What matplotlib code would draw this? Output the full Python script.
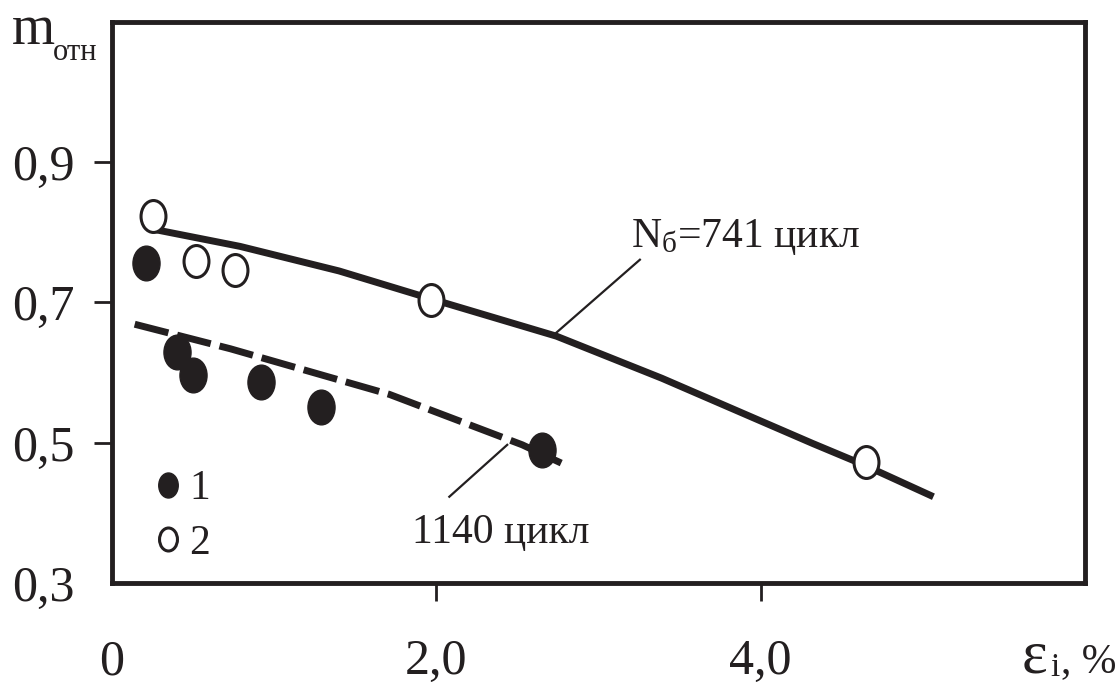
import numpy as np
import matplotlib
matplotlib.use('Agg')
import matplotlib.pyplot as plt
from matplotlib.path import Path
from matplotlib.markers import MarkerStyle

plt.rcParams.update({
    'font.family': 'Liberation Serif',
    'mathtext.fontset': 'custom',
    'mathtext.rm': 'Liberation Serif',
    'mathtext.it': 'Liberation Serif:italic',
})
INK = '#231f20'

# ─── data ────────────────────────────────────────────────────────────────────
# series 1 (filled points)
eps_1 = [0.21, 0.40, 0.50, 0.92, 1.29, 2.65]
m_1 = [0.757, 0.629, 0.597, 0.586, 0.551, 0.490]
# series 2 (open points)
eps_2 = [0.25, 0.52, 0.76, 1.97, 4.65]
m_2 = [0.823, 0.759, 0.746, 0.703, 0.473]
# fitted curve, N = 741 cycles (solid)
fit741_x = [0.265, 0.79, 1.40, 1.97, 2.74, 3.39, 3.70, 4.01, 4.32, 4.62, 5.065]
fit741_y = [0.804, 0.780, 0.745, 0.705, 0.652, 0.592, 0.561, 0.530, 0.499, 0.470, 0.423]
# fitted curve, 1140 cycles (dashed)
fit1140_x = [0.14, 0.73, 1.71, 2.53, 2.77]
fit1140_y = [0.669, 0.634, 0.569, 0.497, 0.471]

xticks = [0, 2, 4]
xtick_labels = ['0', '2,0', '4,0']
yticks = [0.3, 0.5, 0.7, 0.9]
ytick_labels = ['0,3', '0,5', '0,7', '0,9']

# elliptical marker (figure is horizontally squeezed)
_c = Path.unit_circle()
ELLIPSE = MarkerStyle(Path(_c.vertices * [0.78, 1.0], _c.codes))

fig = plt.figure(figsize=(11.2, 6.84), dpi=100)
ax = fig.add_axes([0.1, 0.1477, 0.8688, 0.8201])

ax.plot(fit741_x, fit741_y, color=INK, lw=5, solid_capstyle='butt',
        solid_joinstyle='round', zorder=2)
ax.plot(fit1140_x, fit1140_y, color=INK, lw=5, dashes=(5, 1.3),
        dash_capstyle='butt', zorder=2)

h1, = ax.plot(eps_1, m_1, ls='none', marker=ELLIPSE, ms=25,
              mfc=INK, mec=INK, mew=1, zorder=3)
h2, = ax.plot(eps_2, m_2, ls='none', marker=ELLIPSE, ms=23,
              mfc='white', mec=INK, mew=2.2, zorder=3)

# leader lines and curve labels
ax.plot([2.74, 3.255], [0.657, 0.761], color=INK, lw=1.6, zorder=1)
ax.plot([2.08, 2.437], [0.423, 0.497], color=INK, lw=1.6, zorder=1)
ax.text(3.2, 0.779, r'N$_{\mathrm{б}}$=741 цикл', fontsize=30, va='baseline', color=INK)
ax.text(1.85, 0.357, '1140 цикл', fontsize=30, va='baseline', color=INK)

leg = ax.legend([h1, h2], ['1', '2'], loc='lower left', bbox_to_anchor=(0.047, 0.036),
                frameon=False, markerscale=0.72, handlelength=0.5,
                handletextpad=0.25, labelspacing=0.38, borderaxespad=0,
                borderpad=0, fontsize=30)
for t in leg.get_texts():
    t.set_color(INK)

ax.set_xlim(0, 6)
ax.set_ylim(0.3, 1.1)
ax.set_xticks(xticks)
ax.set_xticklabels(xtick_labels)
ax.set_yticks(yticks)
ax.set_yticklabels(ytick_labels)
ax.tick_params(axis='both', direction='out', length=13, width=2, color=INK,
               labelsize=36, labelcolor=INK)
ax.tick_params(axis='x', pad=27)
ax.tick_params(axis='y', pad=14)
# no tick marks at the origin
ax.xaxis.get_major_ticks()[0].tick1line.set_visible(False)
ax.yaxis.get_major_ticks()[0].tick1line.set_visible(False)
for s in ax.spines.values():
    s.set_linewidth(3.5)
    s.set_color(INK)

# axis titles
fig.text(0.011, 0.935, 'm', fontsize=40, va='baseline', color=INK)
fig.text(0.047, 0.912, 'отн', fontsize=22, va='baseline', color=INK)
fig.text(0.912, 0.0175, 'ε', fontsize=44, va='baseline', color=INK)
fig.text(0.9375, 0.011, 'i', fontsize=24, va='baseline', color=INK)
fig.text(0.947, 0.0175, ', %', fontsize=30, ha='left', va='baseline', color=INK)

fig.savefig('out.png', dpi=100)
